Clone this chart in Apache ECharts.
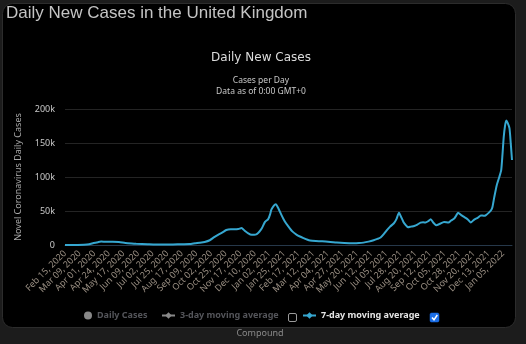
<!DOCTYPE html>
<html>
<head>
<meta charset="utf-8">
<script src="https://cdn.jsdelivr.net/npm/echarts@6/dist/echarts.min.js"></script>
<style>
  html, body { margin: 0; padding: 0; background: #1c1c1c; }
  #chart { width: 526px; height: 344px; }
</style>
</head>
<body>
<div id="chart"></div>
<script>
// First day on the axis and number of daily categories shown
const startDate = Date.UTC(2020, 1, 15);
const dayCount = 705;

// 7-day moving average, sampled at these days (days since Feb 15, 2020)
const sampleDay = [
  0, 20, 30, 38, 45, 52, 57, 65, 75, 85, 95, 105, 112, 130, 150, 170, 185, 196,
  205, 212, 220, 228, 235, 241, 248, 254, 261, 267, 273, 278, 283, 288, 294, 298,
  302, 306, 310, 315, 320, 323, 325, 329, 332, 336, 341, 346, 352, 358, 365, 370,
  376, 381, 386, 395, 405, 418, 428, 440, 455, 463, 470, 478, 486, 492, 497, 502,
  507, 512, 518, 522, 526, 529, 533, 537, 540, 545, 550, 555, 560, 564, 568, 572,
  576, 580, 585, 590, 597, 604, 608, 613, 616, 619, 624, 629, 634, 639, 644, 650,
  655, 660, 663, 668, 671, 673, 676, 680, 684, 687, 689, 691, 693, 695, 697, 700,
  702, 704
];
const sevenDayAvg = [
  0, 50, 300, 1000, 2800, 4200, 5000, 4800, 4800, 4300, 3000, 2200, 1800, 1200, 700, 800, 1100, 1300,
  2500, 3300, 4500, 7000, 11500, 15000, 18500, 22000, 23000, 23000, 23500, 25000, 21000, 17500, 15000, 15000,
  16000, 19500, 24500, 34000, 38000, 45000, 52000, 58000, 60000, 54000, 44000, 35000, 27000, 20000, 15000, 12500,
  10000, 8000, 6500, 5800, 5500, 4500, 3500, 2800, 2500, 2800, 3500, 5000, 7000, 9000, 11000, 16000,
  22000, 27000, 32000, 38000, 47500, 42000, 34000, 29000, 26000, 27000, 28000, 30000, 33000, 33500, 33000, 35000,
  38000, 33000, 29000, 31000, 34000, 33000, 36000, 39000, 43000, 47500, 44000, 41000, 38000, 33000, 37000, 40000,
  43500, 43000, 44000, 48000, 51000, 55000, 70000, 88000, 100000, 110000, 133000, 159000, 175000, 183000, 180000, 172000,
  150000, 125000
];

// Series shown in the legend; the first two are switched off
const dailyCases = [];
const threeDayAvg = [];

const yTickLabels = ['0', '50k', '100k', '150k', '200k'];
const yStep = 50000;

const monthNames = ['Jan', 'Feb', 'Mar', 'Apr', 'May', 'Jun', 'Jul', 'Aug', 'Sep', 'Oct', 'Nov', 'Dec'];
const categories = [];
for (let i = 0; i < dayCount; i++) {
  const d = new Date(startDate + i * 86400000);
  const dd = String(d.getUTCDate()).padStart(2, '0');
  categories.push(monthNames[d.getUTCMonth()] + ' ' + dd + ', ' + d.getUTCFullYear());
}

const lineData = sampleDay.map((day, i) => [day, sevenDayAvg[i]]);

const FONT = '"Noto Sans", "DejaVu Sans", sans-serif';
const LINE_COLOR = '#36a7d0';

const chart = echarts.init(document.getElementById('chart'));
chart.setOption({
  backgroundColor: '#1c1c1c',
  animation: false,
  textStyle: { fontFamily: FONT },
  title: [
    {
      text: 'Daily New Cases in the United Kingdom',
      left: 6, top: 5, padding: 0,
      textStyle: { fontFamily: '"Liberation Sans", Arial, sans-serif', fontSize: 17, fontWeight: 'normal', color: '#c4c4c4' }
    },
    {
      text: 'Daily New Cases',
      left: 261, top: 52, padding: 0, textAlign: 'center',
      textStyle: { fontFamily: '"DejaVu Sans", sans-serif', fontSize: 12, fontWeight: 'normal', color: '#dcdcdc' }
    },
    {
      text: 'Cases per Day\nData as of 0:00 GMT+0',
      left: 261, top: 75, padding: 0, textAlign: 'center',
      textStyle: { fontFamily: FONT, fontSize: 8.5, lineHeight: 11, fontWeight: 'normal', color: '#c8c8c8' }
    }
  ],
  legend: [
    {
      data: [{ name: 'Daily Cases', icon: 'circle' }],
      left: 84, top: 311, padding: 0, itemWidth: 8, itemHeight: 8,
      inactiveColor: '#4e4e4e',
      textStyle: { fontFamily: FONT, fontSize: 9, fontWeight: 'bold' }
    },
    {
      data: ['3-day moving average'],
      left: 161, top: 311, padding: 0, itemWidth: 13, itemHeight: 8,
      inactiveColor: '#4e4e4e',
      textStyle: { fontFamily: FONT, fontSize: 9, fontWeight: 'bold' }
    },
    {
      data: ['7-day moving average'],
      left: 302, top: 311, padding: 0, itemWidth: 13, itemHeight: 8,
      textStyle: { fontFamily: FONT, fontSize: 9, fontWeight: 'bold', color: '#e6e6e6' }
    }
  ],
  grid: { left: 65, right: 14, top: 109, bottom: 99 },
  xAxis: {
    type: 'category',
    data: categories,
    boundaryGap: false,
    axisLine: { lineStyle: { color: '#26384a', width: 1 } },
    axisTick: { show: false },
    axisLabel: {
      interval: 22, rotate: 45, margin: 7,
      fontFamily: FONT, fontSize: 9, color: '#9a8f83'
    },
    splitLine: { show: false }
  },
  yAxis: {
    type: 'value',
    min: 0, max: 200000, interval: yStep,
    name: 'Novel Coronavirus Daily Cases',
    nameLocation: 'middle', nameRotate: 90, nameGap: 42,
    nameTextStyle: { fontFamily: FONT, fontSize: 9, color: '#a8a8a8' },
    axisLine: { show: false },
    axisTick: { show: false },
    axisLabel: {
      margin: 10, fontFamily: FONT, fontSize: 9, color: '#c8c8c8',
      formatter: v => yTickLabels[Math.round(v / yStep)]
    },
    splitLine: { lineStyle: { color: '#242424', width: 1 } }
  },
  series: [
    {
      name: 'Daily Cases', type: 'line', data: dailyCases,
      symbol: 'circle', color: '#888'
    },
    {
      name: '3-day moving average', type: 'line', data: threeDayAvg,
      symbol: 'diamond', color: '#888'
    },
    {
      name: '7-day moving average', type: 'line', data: lineData,
      symbol: 'diamond', symbolSize: 7, showSymbol: false,
      smooth: 0.2,
      color: LINE_COLOR,
      lineStyle: { width: 2, color: LINE_COLOR }
    }
  ],
  graphic: [
    {
      type: 'rect', z: -10, silent: true,
      shape: { x: 2.5, y: 3.5, width: 513, height: 324, r: 10 },
      style: { fill: '#000', stroke: '#2c2c2c', lineWidth: 1 }
    },
    {
      type: 'rect', z: 10, silent: true,
      shape: { x: 288.5, y: 313.5, width: 8, height: 8, r: 1.5 },
      style: { fill: 'none', stroke: '#9a9a9a', lineWidth: 1 }
    },
    {
      type: 'rect', z: 10, silent: true,
      shape: { x: 430, y: 313, width: 9, height: 9, r: 1.5 },
      style: { fill: '#1b6ee6', stroke: '#1b6ee6', lineWidth: 0.5 }
    },
    {
      type: 'polyline', z: 11, silent: true,
      shape: { points: [[432, 317.5], [434, 319.8], [437.3, 315]] },
      style: { fill: 'none', stroke: '#fff', lineWidth: 1.5 }
    },
    {
      type: 'text', z: 10, silent: true,
      style: {
        x: 260, y: 333, text: 'Compound', align: 'center', verticalAlign: 'middle',
        font: '9px "Noto Sans", sans-serif', fill: '#8a8a8a'
      }
    }
  ]
});
</script>
</body>
</html>
